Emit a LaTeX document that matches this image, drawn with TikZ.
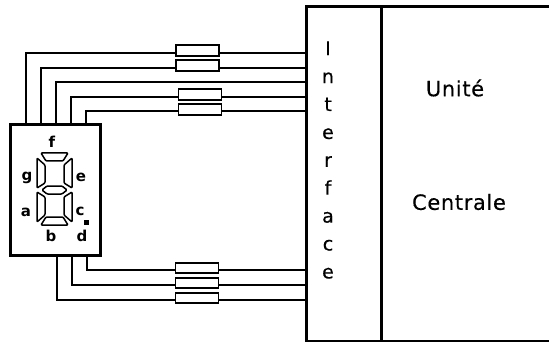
\documentclass[tikz,border=0pt]{standalone}
\usepackage{fontspec}
\setmainfont{DejaVu Sans}
\usetikzlibrary{positioning}
\tikzset {
  unit/.style = {draw, line width=3pt, rectangle, inner sep=0pt, outer sep=0pt},
  resistor/.style = {draw, line width=1.6pt, rectangle, fill=white, minimum width=43pt, minimum height=10.5pt, inner sep=0pt, outer sep=0pt},
  wire/.style = {line width=2pt},
  segment/.style = {line width=1.5pt, rounded corners=1pt},
  pin/.style = {font=\fontsize{15}{15}\selectfont\bfseries, inner sep=0pt},
  title/.style = {font=\fontsize{21}{21}\addfontfeatures{LetterSpace=3, FakeBold=0.4}, inner sep=0pt}
}

\begin{document}
\begin{tikzpicture}[x=1pt, y=-1pt]
    \useasboundingbox (0,0) rectangle (549,342);

    \node[unit, minimum width=90pt, minimum height=130pt] (display) at (55,190) {};
    \node[unit, minimum width=75pt, minimum height=334pt] (interface) at (343.5,174) {};
    \coordinate (topend) at (549,7);
    \coordinate (bottomend) at (549,341);
    \draw[line width=3pt] (interface.north east) -- (topend);
    \draw[line width=3pt] (interface.south east) -- (bottomend);

    \node[font=\fontsize{19}{27.9}\addfontfeatures{FakeBold=0.4}, align=center, inner sep=0pt] (interfacetext) at (328,160) {I\\n\\t\\e\\r\\f\\a\\c\\e};
    \node[title] (unite) at (455,88) {Unité};
    \node[title] (centrale) at (459,202) {Centrale};

    % segments
    \draw[segment] (41,153) -- (68,153) -- (63,161) -- (46,161) -- cycle;
    \draw[segment] (37,158) -- (45,165) -- (45,183) -- (37,188) -- cycle;
    \draw[segment] (72,158) -- (64,165) -- (64,183) -- (72,188) -- cycle;
    \draw[segment] (42,190) -- (47,186) -- (62,186) -- (67,190) -- (62,194) -- (47,194) -- cycle;
    \draw[segment] (37,192) -- (45,197) -- (45,215) -- (37,222) -- cycle;
    \draw[segment] (72,192) -- (64,197) -- (64,215) -- (72,222) -- cycle;
    \draw[segment] (46,217) -- (63,217) -- (68,225) -- (41,225) -- cycle;
    \node[pin] (f) at (52,142) {f};
    \node[pin] (g) at (27,178) {g};
    \node[pin] (e) at (81,177) {e};
    \node[pin] (a) at (26,212) {a};
    \node[pin] (c) at (80,211) {c};
    \node[pin] (b) at (51,236) {b};
    \node[pin] (d) at (82,236) {d};
    \node[fill=black, minimum size=5pt, inner sep=0pt] (dot) at (86.5,222) {};

    \node[resistor] (r1) at (197.5,50.5) {};
    \node[resistor] (r2) at (197.5,65.5) {};
    \node[resistor] (r3) at (200,94.5) {};
    \node[resistor] (r4) at (200,109.5) {};
    \node[resistor] (r5) at (197,268) {};
    \node[resistor] (r6) at (197,283) {};
    \node[resistor] (r7) at (197,298) {};

    \coordinate (p1) at (26,125);
    \coordinate (p2) at (41,125);
    \coordinate (p3) at (56,125);
    \coordinate (p4) at (71,125);
    \coordinate (p5) at (86,125);
    \coordinate (p6) at (87,255);
    \coordinate (p7) at (72,255);
    \coordinate (p8) at (57,255);
    \coordinate (q1) at (306,53);
    \coordinate (q2) at (306,68);
    \coordinate (q3) at (306,82);
    \coordinate (q4) at (306,97);
    \coordinate (q5) at (306,111);
    \coordinate (q6) at (306,270);
    \coordinate (q7) at (306,284.5);
    \coordinate (q8) at (306,300);

    \draw[wire] (p1) |- (r1.west |- q1);
    \draw[wire] (r1.east |- q1) -- (q1);
    \draw[wire] (p2) |- (r2.west |- q2);
    \draw[wire] (r2.east |- q2) -- (q2);
    \draw[wire] (p3) |- (q3);
    \draw[wire] (p4) |- (r3.west |- q4);
    \draw[wire] (r3.east |- q4) -- (q4);
    \draw[wire] (p5) |- (r4.west |- q5);
    \draw[wire] (r4.east |- q5) -- (q5);
    \draw[wire] (p6) |- (r5.west |- q6);
    \draw[wire] (r5.east |- q6) -- (q6);
    \draw[wire] (p7) |- (r6.west |- q7);
    \draw[wire] (r6.east |- q7) -- (q7);
    \draw[wire] (p8) |- (r7.west |- q8);
    \draw[wire] (r7.east |- q8) -- (q8);

\end{tikzpicture}
\end{document}
